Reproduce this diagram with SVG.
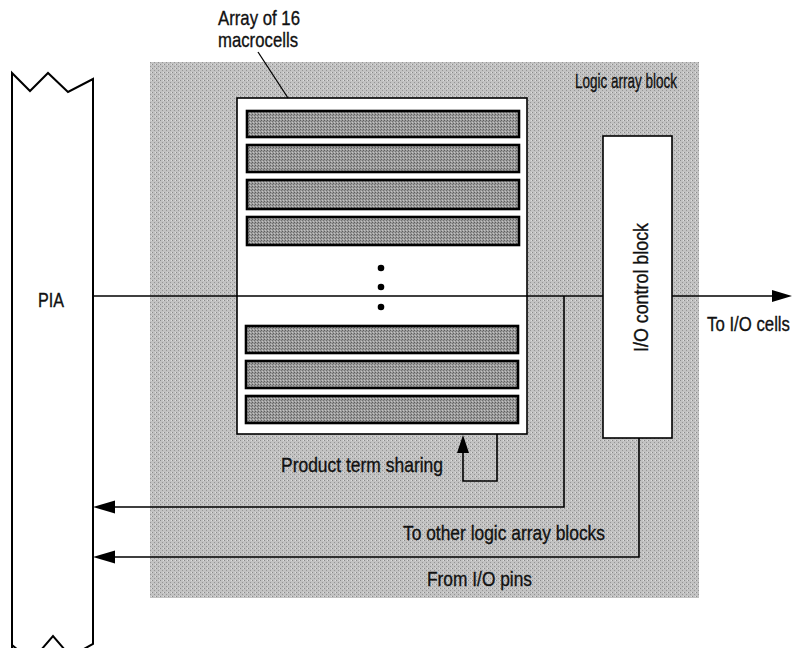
<svg xmlns="http://www.w3.org/2000/svg" width="801" height="648" viewBox="0 0 801 648">
<style>
  .t { font-family: "Liberation Sans Narrow", "Liberation Sans", Arial, sans-serif; font-size: 21px; fill: #111; stroke: #111; stroke-width: 0.35; }
  .ln { fill: none; stroke: #000; stroke-width: 1.6; }
  .row { fill: url(#stip2); stroke: #000; stroke-width: 2.6; }
  .box { fill: #fff; stroke: #000; stroke-width: 1.6; }
  .ah { fill: #000; stroke: none; }
</style>
<defs>
  <pattern id="stip" width="4" height="4" patternUnits="userSpaceOnUse">
    <rect width="4" height="4" fill="#c2c2c2"/>
    <rect x="0" y="0" width="1" height="1" fill="#8a8a8a"/>
    <rect x="2" y="2" width="1" height="1" fill="#959595"/>
    <rect x="3" y="0" width="1" height="1" fill="#dedede"/>
  </pattern>
  <pattern id="stip2" width="3" height="3" patternUnits="userSpaceOnUse">
    <rect width="3" height="3" fill="#9c9c9c"/>
    <rect x="0" y="0" width="1" height="1" fill="#5e5e5e"/>
    <rect x="2" y="1" width="1" height="1" fill="#707070"/>
    <rect x="1" y="2" width="1" height="1" fill="#c4c4c4"/>
  </pattern>
</defs>
<rect width="801" height="648" fill="#fff"/>

<g id="logic-array-block">
  <rect x="150" y="62" width="549" height="536" fill="url(#stip)"/>
  <text class="t" x="575" y="88" textLength="102" lengthAdjust="spacingAndGlyphs">Logic array block</text>
</g>

<g id="pia">
  <path class="ln" style="stroke-width:2" d="M12,648 L12,73 L30,91 L48,73 L68,92 L93,79 L93,644 L82,650"/>
  <path class="ln" style="stroke-width:2" d="M12,645 L18,650 M41,650 L53,636 L65,650"/>
  <text class="t" x="38" y="307" textLength="26" lengthAdjust="spacingAndGlyphs">PIA</text>
</g>

<g id="macrocell-array">
  <rect class="box" x="237" y="98" width="290" height="336"/>
  <rect class="row" x="247" y="111" width="272" height="26"/>
  <rect class="row" x="247" y="145" width="272" height="27"/>
  <rect class="row" x="247" y="180" width="272" height="29"/>
  <rect class="row" x="247" y="217" width="272" height="28"/>
  <circle cx="381" cy="268" r="3.3" fill="#000"/>
  <circle cx="381" cy="287" r="3.3" fill="#000"/>
  <circle cx="381" cy="307" r="3.3" fill="#000"/>
  <rect class="row" x="246" y="326" width="272" height="27"/>
  <rect class="row" x="246" y="361" width="272" height="27"/>
  <rect class="row" x="246" y="396" width="272" height="27"/>
</g>

<g id="array-label">
  <text class="t" x="218" y="25" textLength="82" lengthAdjust="spacingAndGlyphs">Array of 16</text>
  <text class="t" x="218" y="47" textLength="80" lengthAdjust="spacingAndGlyphs">macrocells</text>
  <line class="ln" style="stroke-width:1.3" x1="258" y1="52" x2="288" y2="98"/>
</g>

<g id="io-control-block">
  <rect class="box" x="603" y="136" width="69" height="302"/>
  <text class="t" transform="translate(648,352) rotate(-90)" x="0" y="0" textLength="129" lengthAdjust="spacingAndGlyphs">I/O control block</text>
</g>

<g id="connectors">
  <line class="ln" x1="93" y1="296" x2="603" y2="296"/>
  <line class="ln" x1="672" y1="296" x2="776" y2="296"/>
  <polygon class="ah" points="792,296 772,290 772,302"/>
  <path class="ln" d="M564,296 L564,507 L110,507"/>
  <polygon class="ah" points="93,507 115,500.5 115,513.5"/>
  <path class="ln" d="M639,438 L639,557 L110,557"/>
  <polygon class="ah" points="93,557 115,550.5 115,563.5"/>
  <path class="ln" d="M497,434 L497,481 L463,481 L463,450"/>
  <polygon class="ah" points="463,435 457,453 469,453"/>
</g>

<g id="labels">
  <text class="t" x="707" y="331" textLength="83" lengthAdjust="spacingAndGlyphs">To I/O cells</text>
  <text class="t" x="281" y="472" textLength="162" lengthAdjust="spacingAndGlyphs">Product term sharing</text>
  <text class="t" x="403" y="540" textLength="202" lengthAdjust="spacingAndGlyphs">To other logic array blocks</text>
  <text class="t" x="427" y="586" textLength="105" lengthAdjust="spacingAndGlyphs">From I/O pins</text>
</g>
</svg>
